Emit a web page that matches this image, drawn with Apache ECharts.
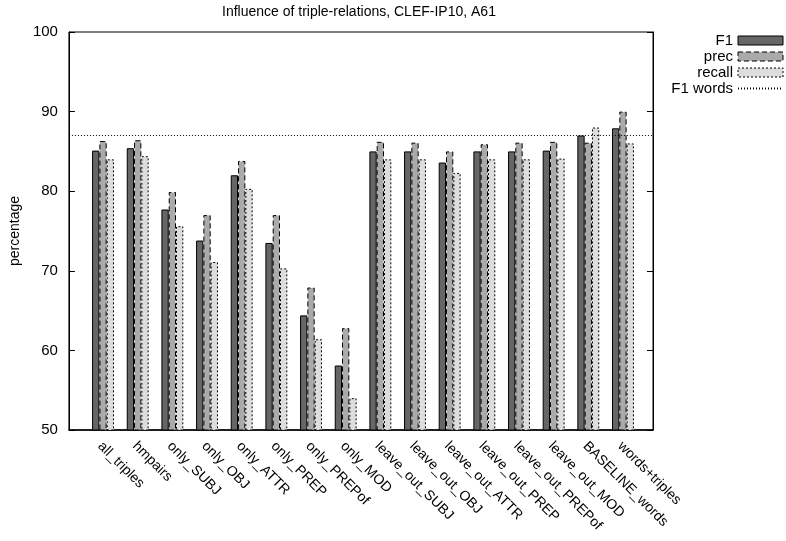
<!DOCTYPE html>
<html>
<head>
<meta charset="utf-8">
<script src="https://cdn.jsdelivr.net/npm/echarts@6/dist/echarts.min.js"></script>
<style>
  html, body { margin: 0; padding: 0; background: #fff; }
  #chart { width: 786px; height: 541px; }
</style>
</head>
<body>
<div id="chart"></div>
<script>
  var categories = ['all_triples', 'hmpairs', 'only_SUBJ', 'only_OBJ', 'only_ATTR', 'only_PREP',
    'only_PREPof', 'only_MOD', 'leave_out_SUBJ', 'leave_out_OBJ', 'leave_out_ATTR',
    'leave_out_PREP', 'leave_out_PREPof', 'leave_out_MOD', 'BASELINE_words', 'words+triples']
  var f1 = [85.1, 85.4, 77.7, 73.8, 82.0, 73.5, 64.4, 58.1, 85.0, 85.0, 83.6, 85.0, 85.0, 85.1, 87.0, 87.9]
  var prec = [86.3, 86.4, 79.9, 77.0, 83.8, 77.0, 67.9, 62.8, 86.2, 86.1, 85.0, 85.9, 86.1, 86.2, 86.1, 90.0]
  var recall = [84.0, 84.4, 75.6, 71.1, 80.3, 70.3, 61.4, 54.0, 84.0, 84.0, 82.3, 84.0, 84.0, 84.1, 88.0, 86.0]
  var f1Words = 87.0
  var yTicks = [50, 100, 10]

  var font = 'Liberation Sans, Arial, sans-serif'
  var chart = echarts.init(document.getElementById('chart'))

  chart.setOption({
    backgroundColor: '#fff',
    animation: false,
    textStyle: { fontFamily: font, color: '#000' },
    title: {
      text: 'Influence of triple-relations, CLEF-IP10, A61',
      left: 217,
      top: 0,
      textStyle: { fontFamily: font, fontSize: 14, fontWeight: 'normal', color: '#000' }
    },
    legend: {
      orient: 'vertical',
      align: 'right',
      right: 2,
      top: 33,
      padding: 0,
      itemWidth: 45,
      itemHeight: 9,
      itemGap: 1,
      textStyle: { fontFamily: font, fontSize: 15, color: '#000' },
      data: [
        { name: 'F1', icon: 'rect', itemStyle: { borderWidth: 1, borderColor: '#000' } },
        { name: 'prec', icon: 'rect', itemStyle: { borderWidth: 1, borderColor: '#000', borderType: [5, 3] } },
        { name: 'recall', icon: 'rect', itemStyle: { borderWidth: 1, borderColor: '#000', borderType: [2, 2] } },
        { name: 'F1 words', itemStyle: { opacity: 0 } }
      ]
    },
    grid: [
      // frame
      { left: 65, right: 133, top: 32, bottom: 111, show: true, borderColor: '#000', borderWidth: 1 },
      // bars
      { left: 85.7, right: 145.7, top: 32, bottom: 111 },
      // tick labels, a bit left of the bar groups like gnuplot
      { left: 82.7, right: 148.7, top: 32, bottom: 111 }
    ],
    xAxis: [
      {
        gridIndex: 0, type: 'value', min: 0, max: 1,
        axisLine: { show: true, onZero: false, lineStyle: { color: '#000', width: 1.5 } },
        axisTick: { show: false }, axisLabel: { show: false }, splitLine: { show: false }
      },
      {
        gridIndex: 1, type: 'category', data: categories,
        axisLine: { show: false }, axisTick: { show: false }, axisLabel: { show: false }
      },
      {
        gridIndex: 2, type: 'category', data: categories,
        axisLine: { show: false }, axisTick: { show: false },
        axisLabel: { interval: 0, rotate: -45, margin: 14, fontFamily: font, fontSize: 14, color: '#000' }
      }
    ],
    yAxis: [
      {
        gridIndex: 0, type: 'value', min: yTicks[0], max: yTicks[1], interval: yTicks[2],
        name: 'percentage', nameLocation: 'middle', nameGap: 44, nameRotate: 90,
        nameTextStyle: { fontFamily: font, fontSize: 14, color: '#000' },
        axisLine: { show: true, lineStyle: { color: '#000' } },
        axisTick: { show: true, inside: true, length: 6, lineStyle: { color: '#000' } },
        axisLabel: { margin: 11, fontFamily: font, fontSize: 15, color: '#000' },
        splitLine: { show: false }
      },
      {
        gridIndex: 0, type: 'value', position: 'right', min: yTicks[0], max: yTicks[1], interval: yTicks[2],
        axisLine: { show: true, lineStyle: { color: '#000' } },
        axisTick: { show: true, inside: true, length: 6, lineStyle: { color: '#000' } },
        axisLabel: { show: false }, splitLine: { show: false }
      },
      { gridIndex: 1, type: 'value', min: yTicks[0], max: yTicks[1], show: false },
      { gridIndex: 2, type: 'value', min: yTicks[0], max: yTicks[1], show: false }
    ],
    series: [
      {
        name: 'F1', type: 'bar', xAxisIndex: 1, yAxisIndex: 2,
        barWidth: 7.3, barGap: '0%', data: f1,
        itemStyle: { color: '#666666', borderColor: '#000', borderWidth: 1 }
      },
      {
        name: 'prec', type: 'bar', xAxisIndex: 1, yAxisIndex: 2,
        barWidth: 7.3, barGap: '0%', data: prec,
        itemStyle: { color: '#aaaaaa', borderColor: '#000', borderWidth: 1, borderType: [5, 3] }
      },
      {
        name: 'recall', type: 'bar', xAxisIndex: 1, yAxisIndex: 2,
        barWidth: 7.3, barGap: '0%', data: recall,
        itemStyle: { color: '#dddddd', borderColor: '#000', borderWidth: 1, borderType: [2, 2] }
      },
      {
        name: 'F1 words', type: 'line', xAxisIndex: 0, yAxisIndex: 0,
        symbol: 'none', data: [[0, f1Words], [1, f1Words]],
        lineStyle: { color: '#000', width: 1, type: [1, 2] },
        itemStyle: { color: '#000' }
      }
    ]
  })
</script>
</body>
</html>
